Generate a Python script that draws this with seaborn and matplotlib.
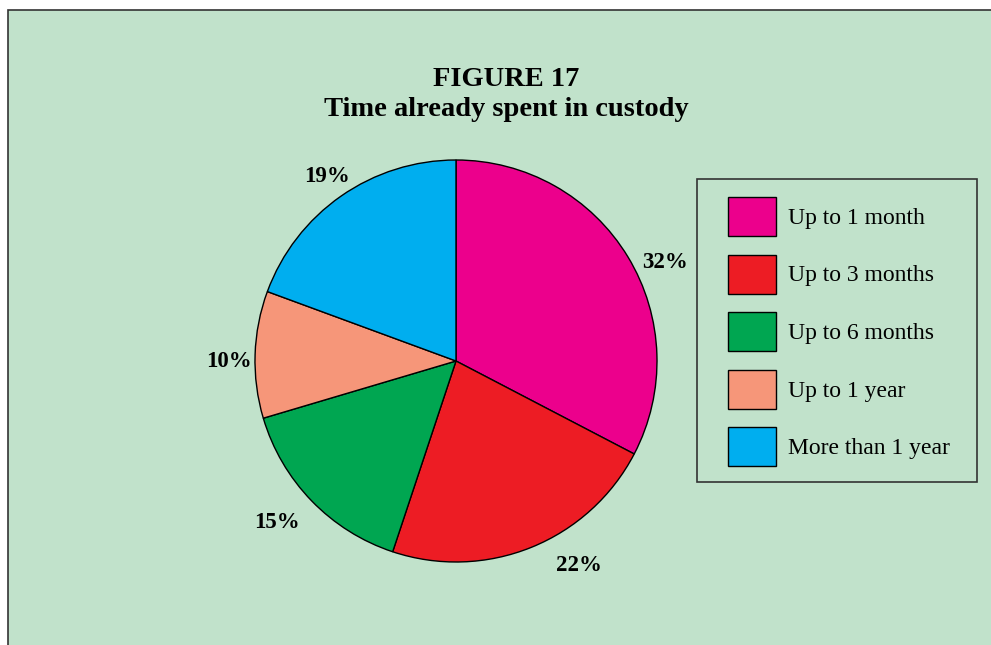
import numpy as np
import seaborn as sns
import matplotlib.pyplot as plt
from matplotlib.patches import Rectangle

categories = ["Up to 1 month", "Up to 3 months", "Up to 6 months", "Up to 1 year", "More than 1 year"]
shares = [32, 22, 15, 10, 19]
pct_labels = ["32%", "22%", "15%", "10%", "19%"]
colors = ["#ec008c", "#ed1c24", "#00a651", "#f69679", "#00aeef"]

# small nudges so the % labels sit where the original put them
label_turn = [-6, 9, -2, 2, 0]
label_dist = [1.15, 1.19, 1.20, 1.13, 1.12]

sns.set_style("white")
plt.rcParams["font.family"] = ["Liberation Serif", "DejaVu Serif"]
plt.rcParams["text.color"] = "black"

W, H = 991, 645
bg = "#c1e2cb"
fig = plt.figure(figsize=(W / 100, H / 100), dpi=100)
fig.patch.set_facecolor("white")

# green panel with the frame clipped on the right/bottom
fig.patches.append(Rectangle((8 / W, -0.1), 1.2, (H - 10) / H + 0.1, transform=fig.transFigure,
                             facecolor=bg, edgecolor="#333333", lw=1.2, zorder=-5))

cx, cy, r = 456, 361, 201
ax = fig.add_axes([(cx - r) / W, (H - cy - r) / H, 2 * r / W, 2 * r / H])
ax.set_zorder(2)
pal = sns.color_palette(colors)
wedges, _ = ax.pie(shares, colors=pal, startangle=90, counterclock=False,
                   wedgeprops=dict(edgecolor="black", linewidth=1.0))
ax.set_xlim(-1, 1)
ax.set_ylim(-1, 1)
ax.set_aspect("equal")
ax.axis("off")

for w, lab, turn, d in zip(wedges, pct_labels, label_turn, label_dist):
    ang = np.deg2rad((w.theta1 + w.theta2) / 2 + turn)
    ax.text(d * np.cos(ang), d * np.sin(ang), lab, ha="center", va="center",
            fontsize=16.5, fontweight="bold", clip_on=False)

fig.text(506 / W, 1 - 86 / H, "FIGURE 17", ha="center", va="baseline",
         fontsize=20.5, fontweight="bold")
fig.text(506 / W, 1 - 116 / H, "Time already spent in custody", ha="center", va="baseline",
         fontsize=20.5, fontweight="bold")

# legend box
fig.patches.append(Rectangle((697 / W, 1 - 482 / H), (977 - 697) / W, (482 - 179) / H,
                             transform=fig.transFigure, facecolor="none",
                             edgecolor="#333333", lw=1.2, zorder=1))
leg = fig.legend(wedges, categories, loc="upper left", bbox_to_anchor=(728 / W, 1 - 197 / H),
                 frameon=False, borderpad=0, borderaxespad=0, fontsize=17,
                 handlelength=2.03, handleheight=2.16, labelspacing=0.79, handletextpad=0.5)
leg.set_zorder(3)

fig.savefig("out.png", dpi=100, facecolor="white")
